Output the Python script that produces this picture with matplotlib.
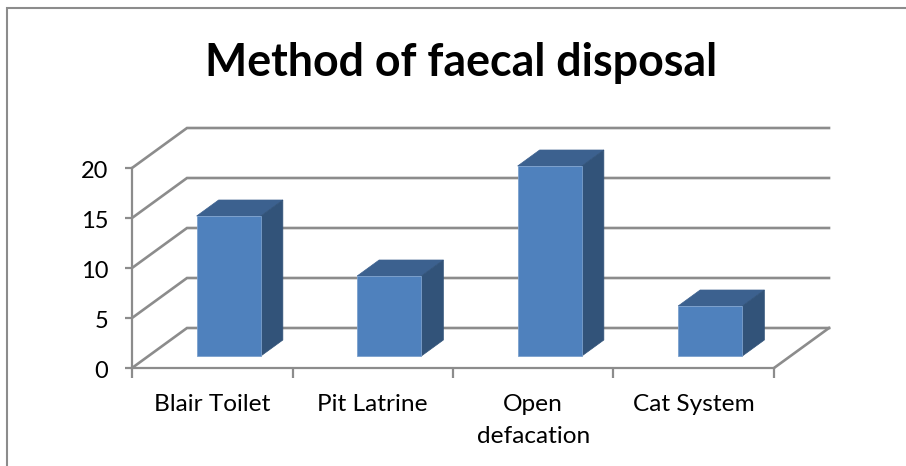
import matplotlib
matplotlib.use("Agg")
import matplotlib.pyplot as plt
from matplotlib.patches import Polygon, Rectangle
from matplotlib.transforms import ScaledTranslation

categories = ["Blair Toilet", "Pit Latrine", "Open\ndefacation", "Cat System"]
values = [14, 8, 19, 5]
y_ticks = [0, 5, 10, 15, 20]
title = "Method of faecal disposal"

W, H = 906, 466
plt.rcParams["font.family"] = ["Lato", "DejaVu Sans"]
fig = plt.figure(figsize=(W / 100, H / 100), dpi=100, facecolor="white")

# plot box in pixels: x 132..774, y 168..368
ax = fig.add_axes([132 / W, 1 - 368 / H, (774 - 132) / W, 200 / H])
ax.set_xlim(0, 4)
ax.set_ylim(0, 20)
ax.patch.set_visible(False)

GRID = "#8c8c8c"
DEPTH_X = 55 / 160.5   # oblique offset of the back wall, in category units
DEPTH_Y = 4.0          # in value units

for s in ("top", "right"):
    ax.spines[s].set_visible(False)
for s in ("left", "bottom"):
    ax.spines[s].set_color(GRID)
    ax.spines[s].set_linewidth(1.6)

ax.set_yticks(y_ticks)
ax.tick_params(axis="y", length=5, width=1.6, color=GRID, labelsize=17, pad=12, labelcolor="black")
for lab in ax.get_yticklabels():
    lab.set_transform(lab.get_transform() + ScaledTranslation(0, -2 / 100, fig.dpi_scale_trans))
ax.set_xticks(range(5))
ax.set_xticklabels([])
ax.tick_params(axis="x", which="major", length=7, width=1.6, color=GRID)
ax.set_xticks([i + 0.5 for i in range(4)], minor=True)
ax.set_xticklabels(categories, minor=True, fontsize=17.6, linespacing=1.65)
ax.tick_params(axis="x", which="minor", length=0, pad=18.5)

# wall gridlines
for v in y_ticks:
    ax.plot([0, DEPTH_X, 4 + DEPTH_X], [v, v + DEPTH_Y, v + DEPTH_Y],
            color=GRID, lw=1.9, clip_on=False, zorder=1, solid_joinstyle="miter")
ax.plot([4, 4 + DEPTH_X], [0, DEPTH_Y], color=GRID, lw=1.9, clip_on=False, zorder=1)

# bars
FRONT = "#4f81bd"
TOP = "#3c618f"
SIDE = "#325379"
EDGE = "#7ba0cd"
f = 0.3            # bar front plane, fraction of depth
d = 0.4            # bar depth, fraction of depth
bw = 0.4           # bar width, category units
x0f, y0f = f * DEPTH_X, f * DEPTH_Y
dx, dy = d * DEPTH_X, d * DEPTH_Y
for i, v in enumerate(values):
    l = i + 0.5 - bw / 2 + x0f
    r = l + bw
    b = y0f
    t = y0f + v
    ax.add_patch(Polygon([(l, t), (r, t), (r + dx, t + dy), (l + dx, t + dy)],
                         fc=TOP, ec=TOP, lw=0.5, clip_on=False, zorder=3))
    ax.add_patch(Polygon([(r, b), (r + dx, b + dy), (r + dx, t + dy), (r, t)],
                         fc=SIDE, ec=SIDE, lw=0.5, clip_on=False, zorder=3))
    ax.add_patch(Rectangle((l, b), bw, v, fc=FRONT, ec=EDGE, lw=0.6, clip_on=False, zorder=4))

# chart frame
fig.add_artist(Rectangle((6.5 / W, -0.02), 1.1, 1 - 8 / H + 0.02, transform=fig.transFigure,
                         fc="none", ec="#8c8c8c", lw=1.5))

fig.text(461.5 / W, 1 - 63 / H, title, fontsize=32.2, fontweight="bold",
         ha="center", va="center", color="black")

fig.savefig("out.png", dpi=100)
